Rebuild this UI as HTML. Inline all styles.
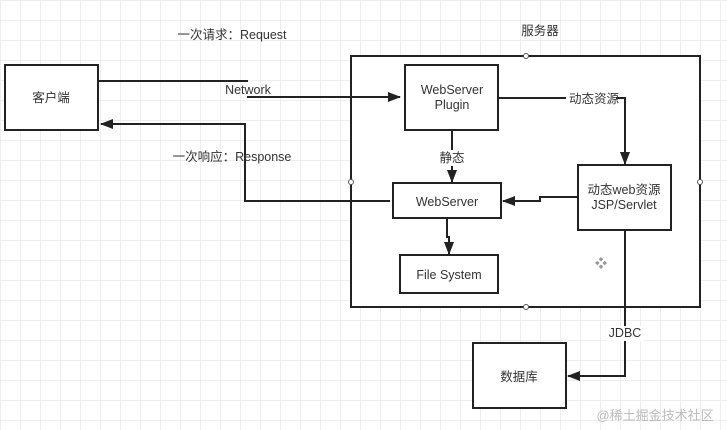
<!DOCTYPE html>
<html><head><meta charset="utf-8"><style>
body{margin:0;width:727px;height:430px;overflow:hidden;background:#fff;
background-image:linear-gradient(#eee 1px,transparent 1px),linear-gradient(90deg,#eee 1px,transparent 1px);background-size:20px 20px;
font-family:"Liberation Sans","Noto Sans CJK SC",sans-serif}
</style></head><body>
<svg width="727" height="430" style="position:absolute;left:0;top:0" font-family="Liberation Sans, Noto Sans CJK SC, sans-serif" font-size="12.5" fill="#333">
<defs><marker id="a" markerWidth="13" markerHeight="10" refX="12" refY="5" orient="auto" markerUnits="userSpaceOnUse"><path d="M0,0L13,5L0,10z" fill="#222"/></marker></defs>
<g stroke="#222" stroke-width="2" fill="#fff">
<rect x="351" y="56" width="349" height="251"/>
<rect x="5" y="65" width="93" height="65"/>
<rect x="405" y="65" width="93" height="65"/>
<rect x="393" y="183" width="108" height="35"/>
<rect x="578" y="165" width="93" height="65"/>
<rect x="400" y="255" width="98" height="38"/>
<rect x="473" y="343" width="93" height="65"/>
</g>
<g stroke="#222" stroke-width="2" fill="none">
<path d="M98,81H248"/>
<path d="M247,97H400" marker-end="url(#a)"/>
<path d="M390,201H245V124H101" marker-end="url(#a)"/>
<path d="M498,98H625V164" marker-end="url(#a)"/>
<path d="M452,130V182" marker-end="url(#a)"/>
<path d="M578,197H540V201H503" marker-end="url(#a)"/>
<path d="M447,218V237H449V254" marker-end="url(#a)"/>
<path d="M625,230V376H568" marker-end="url(#a)"/>
</g>
<g fill="#fff" stroke="#555"><circle cx="526" cy="56" r="2.5"/><circle cx="526" cy="307" r="2.5"/><circle cx="351" cy="182" r="2.5"/><circle cx="700" cy="182" r="2.5"/></g>
<g text-anchor="middle">
<rect x="432" y="150" width="40" height="16" fill="#fff"/>
<rect x="566" y="91" width="50" height="15" fill="#fff"/>
<rect x="606" y="326" width="38" height="15" fill="#fff"/>
<text x="232" y="39">一次请求：Request</text>
<text x="248" y="94">Network</text>
<text x="232" y="161">一次响应：Response</text>
<text x="540" y="35">服务器</text>
<text x="51" y="102">客户端</text>
<text x="452" y="94">WebServer</text><text x="452" y="109">Plugin</text>
<text x="594" y="103">动态资源</text>
<text x="452" y="162">静态</text>
<text x="447" y="206">WebServer</text>
<text x="624" y="194">动态web资源</text><text x="624" y="209">JSP/Servlet</text>
<text x="449" y="279">File System</text>
<text x="625" y="337">JDBC</text>
<text x="519" y="381">数据库</text>
<text x="601" y="268" fill="#999">❖</text>
<text x="655" y="420" font-size="13" fill="#bbb">@稀土掘金技术社区</text>
</g>
</svg>
</body></html>
